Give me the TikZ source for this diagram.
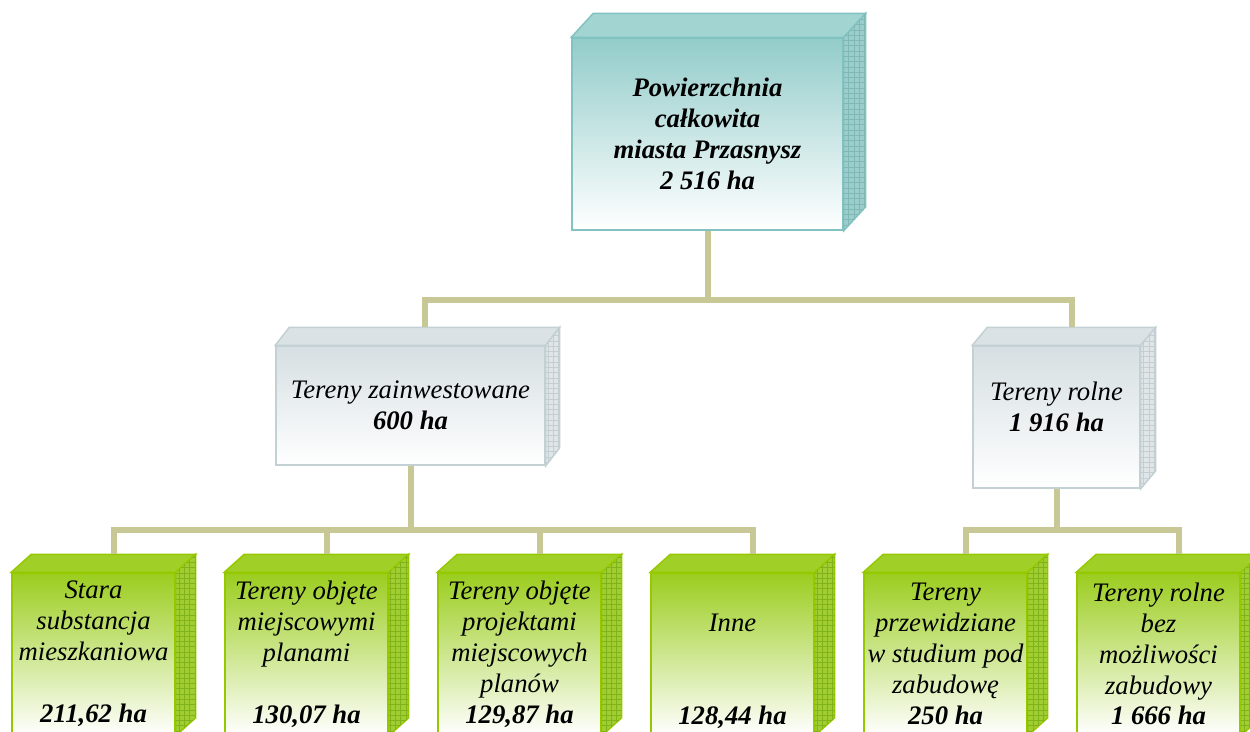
\documentclass[tikz,border=0pt]{standalone}
\usepackage{fontspec}
\setmainfont{Liberation Serif}
\usetikzlibrary{calc,patterns}
\definecolor{khaki}{RGB}{200,200,150}
\definecolor{tealface}{RGB}{146,204,202}
\definecolor{tealtop}{RGB}{162,212,210}
\definecolor{tealside}{RGB}{155,205,203}
\definecolor{tealmesh}{RGB}{128,184,182}
\definecolor{tealedge}{RGB}{130,195,193}
\definecolor{grayface}{RGB}{214,223,226}
\definecolor{graytop}{RGB}{218,226,229}
\definecolor{grayside}{RGB}{224,230,232}
\definecolor{graymesh}{RGB}{196,205,209}
\definecolor{grayedge}{RGB}{195,208,212}
\definecolor{greenface}{RGB}{155,205,30}
\definecolor{greentop}{RGB}{160,208,40}
\definecolor{greenside}{RGB}{160,206,50}
\definecolor{greenmesh}{RGB}{128,178,25}
\definecolor{greenedge}{RGB}{150,200,0}
\tikzset{
  box/.style={draw, inner sep=0pt, align=center, line width=0.85pt,
    font=\fontsize{15.2pt}{17.6pt}\selectfont\itshape, bottom color=white},
  tealbox/.style={box, draw=tealedge, top color=tealface},
  graybox/.style={box, draw=grayedge, top color=grayface, minimum height=2.38cm},
  greenbox/.style={box, draw=greenedge, top color=greenface, minimum width=3.26cm, minimum height=3.24cm},
  conn/.style={line width=0.12cm, draw=khaki},
}
\newcommand{\boxsides}[4]{%
  \filldraw[draw=#4edge, fill=#4top, line width=0.85pt] (#1.north west) -- ++(#2,#3) -- ($(#1.north east)+(#2,#3)$) -- (#1.north east) -- cycle;
  \filldraw[draw=#4edge, fill=#4side, line width=0.85pt, postaction={pattern=grid, pattern color=#4mesh}] (#1.north east) -- ++(#2,#3) -- ($(#1.south east)+(#2,#3)$) -- (#1.south east) -- cycle;
  \coordinate (#1-top) at ($(#1.north)+(#2,#3)$);
}

\begin{document}
\begin{tikzpicture}[x=0.02cm,y=-0.02cm]
\clip (0,0) rectangle (1250,731);

\node[tealbox, minimum width=5.42cm, minimum height=3.84cm, font=\fontsize{15.2pt}{17.6pt}\selectfont\bfseries\itshape] (total) at (707.5,134)
  {Powierzchnia\\całkowita\\miasta Przasnysz\\2 516 ha};
\boxsides{total}{22}{-24}{teal}

\node[graybox, minimum width=5.38cm] (zainw) at (410.5,405.5) {Tereny zainwestowane\\\textbf{600 ha}};
\boxsides{zainw}{14}{-18}{gray}
\node[graybox, minimum width=3.34cm, minimum height=2.84cm] (rolne) at (1056.5,417) {Tereny rolne\\\textbf{1 916 ha}\\[-0.22cm]\mbox{}};
\boxsides{rolne}{15}{-18}{gray}

\node[greenbox] (stara) at (93.5,654) {Stara\\substancja\\mieszkaniowa\\[0.62cm]\textbf{211,62 ha}};
\node[greenbox] (plany) at (306.5,654) {Tereny objęte\\miejscowymi\\planami\\[0.62cm]\textbf{130,07 ha}};
\node[greenbox] (projekty) at (519.5,654) {Tereny objęte\\projektami\\miejscowych\\planów\\\textbf{129,87 ha}};
\node[greenbox] (inne) at (732.5,654) {\strut\\Inne\\[1.24cm]\textbf{128,44 ha}};
\node[greenbox] (studium) at (945.5,654) {Tereny\\przewidziane\\w studium pod\\zabudowę\\\textbf{250 ha}};
\node[greenbox] (bezzab) at (1158.5,654) {Tereny rolne\\bez\\możliwości\\zabudowy\\\textbf{1 666 ha}};
\foreach \b in {stara,plany,projekty,inne,studium,bezzab}
  {\boxsides{\b}{20}{-18}{green}}

\coordinate (bus1) at (0,300);
\coordinate (bus2) at (0,530);
\draw[conn] (total.south) -- (total.south |- bus1);
\draw[conn] (zainw-top) |- (rolne-top |- bus1) -- (rolne-top);
\draw[conn] (zainw.south) -- (zainw.south |- bus2);
\draw[conn] (stara-top) |- (inne-top |- bus2) -- (inne-top);
\draw[conn] (plany-top) -- (plany-top |- bus2);
\draw[conn] (projekty-top) -- (projekty-top |- bus2);
\draw[conn] (rolne.south) -- (rolne.south |- bus2);
\draw[conn] (studium-top) |- (bezzab-top |- bus2) -- (bezzab-top);
\end{tikzpicture}
\end{document}
